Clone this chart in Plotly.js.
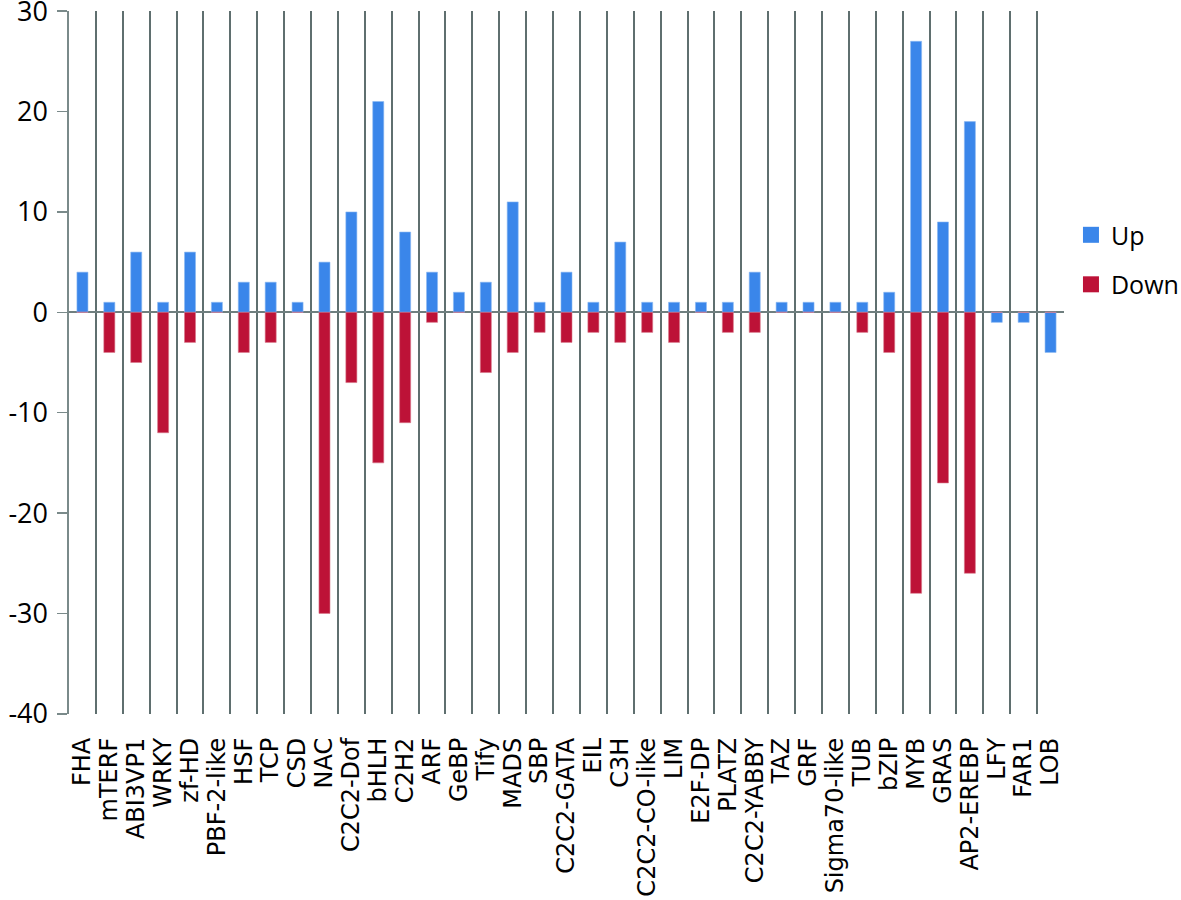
<!DOCTYPE html>
<html>
<head>
<meta charset="utf-8">
<script src="https://cdn.plot.ly/plotly-3.0.1.min.js"></script>
<style>
  html, body { margin: 0; padding: 0; background: #fff; }
  #chart { width: 1181px; height: 900px; }
</style>
</head>
<body>
<div id="chart"></div>
<script>
/* transcription-factor families, up / down regulated counts */
var families = ['FHA', 'mTERF', 'ABI3VP1', 'WRKY', 'zf-HD', 'PBF-2-like', 'HSF', 'TCP', 'CSD', 'NAC',
  'C2C2-Dof', 'bHLH', 'C2H2', 'ARF', 'GeBP', 'Tify', 'MADS', 'SBP', 'C2C2-GATA', 'EIL',
  'C3H', 'C2C2-CO-like', 'LIM', 'E2F-DP', 'PLATZ', 'C2C2-YABBY', 'TAZ', 'GRF', 'Sigma70-like', 'TUB',
  'bZIP', 'MYB', 'GRAS', 'AP2-EREBP', 'LFY', 'FAR1', 'LOB'];
var upCounts = [4, 1, 6, 1, 6, 1, 3, 3, 1, 5,
  10, 21, 8, 4, 2, 3, 11, 1, 4, 1,
  7, 1, 1, 1, 1, 4, 1, 1, 1, 1,
  2, 27, 9, 19, -1, -1, -4];
var downCounts = [0, -4, -5, -12, -3, 0, -4, -3, 0, -30,
  -7, -15, -11, -1, 0, -6, -4, -2, -3, -2,
  -3, -2, -3, 0, -2, -2, 0, 0, 0, -2,
  -4, -28, -17, -26, 0, 0, 0];
var yTicks = [-40, -30, -20, -10, 0, 10, 20, 30];
var yTickText = ['-40', '-30', '-20', '-10', '0', '10', '20', '30'];

var GRID = '#5f6f6f';
var BLUE = '#3a86ea';
var RED = '#bd1237';

var traces = [
  { type: 'bar', name: 'Up', x: families, y: upCounts, showlegend: false,
    marker: { color: BLUE, line: { color: '#8cb8f2', width: 0.6 } }, hoverinfo: 'x+y' },
  { type: 'bar', name: 'Down', x: families, y: downCounts, showlegend: false,
    marker: { color: RED, line: { color: '#d9798c', width: 0.6 } }, hoverinfo: 'x+y' },
  // legend keys only (bigger squares than the bar legend gives)
  { type: 'scatter', mode: 'markers', name: 'Up', x: [null], y: [null], legendgroup: 'up',
    marker: { symbol: 'square', size: 18, color: BLUE } },
  { type: 'scatter', mode: 'markers', name: 'Down', x: [null], y: [null], legendgroup: 'down',
    marker: { symbol: 'square', size: 18, color: RED } }
];

var layout = {
  width: 1181, height: 900,
  margin: { l: 69, r: 117, t: 11, b: 186, autoexpand: false },
  paper_bgcolor: '#ffffff', plot_bgcolor: '#ffffff',
  font: { family: '"Open Sans", sans-serif', color: '#000' },
  barmode: 'overlay', bargap: 0.59,
  showlegend: true,
  legend: {
    x: 1.007, xanchor: 'left', y: 0.714, yanchor: 'top',
    font: { size: 25, family: '"Open Sans", sans-serif' },
    traceorder: 'grouped', tracegroupgap: 14,
    bgcolor: 'rgba(0,0,0,0)'
  },
  xaxis: {
    type: 'category', categoryorder: 'array', categoryarray: families,
    tickmode: 'array', tickvals: families, ticktext: families,
    tickson: 'boundaries', showgrid: true, gridcolor: GRID, gridwidth: 2,
    ticks: 'outside', ticklen: 0, tickcolor: GRID,
    ticklabelstandoff: 18,
    tickangle: -90,
    tickfont: { family: '"DejaVu Sans", sans-serif', size: 24, color: '#000' },
    showline: false, zeroline: false, fixedrange: true
  },
  yaxis: {
    range: [-40.02, 30.02], tickvals: yTicks, ticktext: yTickText,
    showgrid: false, zeroline: true, zerolinecolor: '#6f7f7f', zerolinewidth: 2,
    showline: true, linecolor: '#7a8a8a', linewidth: 1.6,
    ticks: 'outside', ticklen: 10, tickwidth: 1.6, tickcolor: '#7a8a8a',
    ticklabelstandoff: 4, ticklabeloverflow: 'allow',
    tickfont: { family: '"Open Sans", sans-serif', size: 27, color: '#000' },
    fixedrange: true
  }
};

Plotly.newPlot('chart', traces, layout, { displayModeBar: false, staticPlot: true });
</script>
</body>
</html>
